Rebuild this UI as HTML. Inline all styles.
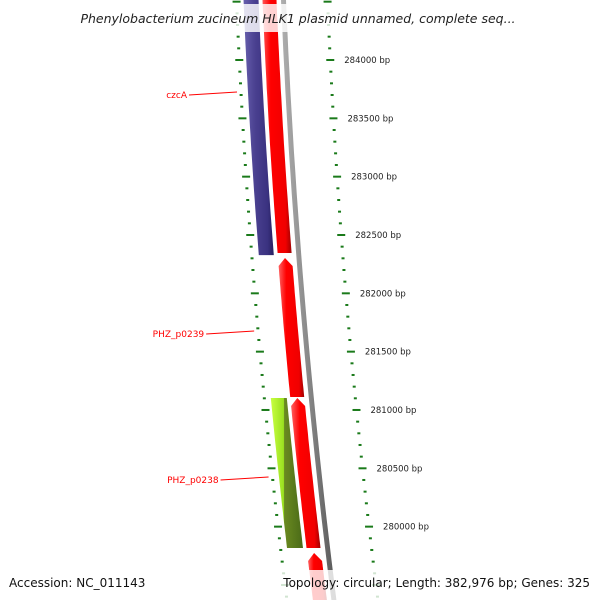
<!DOCTYPE html>
<html><head><meta charset="utf-8"><style>
body{margin:0;background:#fff;overflow:hidden}
svg{display:block;overflow:hidden;font-family:"DejaVu Sans","Liberation Sans",sans-serif}
</style></head><body>
<svg id="map" width="600" height="600" viewBox="0 0 600 600">
<defs>
<linearGradient id="gRed" x1="0" x2="1" y1="0" y2="0"><stop offset="0" stop-color="#ff6060"/><stop offset="0.3" stop-color="#ff0000"/><stop offset="0.8" stop-color="#f00000"/><stop offset="1" stop-color="#a00000"/></linearGradient>
<linearGradient id="gBlue" x1="0" x2="1" y1="0" y2="0"><stop offset="0" stop-color="#6a62b0"/><stop offset="0.4" stop-color="#4a4090"/><stop offset="0.8" stop-color="#3a3280"/><stop offset="1" stop-color="#282060"/></linearGradient>
<linearGradient id="gGreen" x1="0" x2="1" y1="0" y2="0"><stop offset="0" stop-color="#c8ff40"/><stop offset="0.4" stop-color="#9ae020"/><stop offset="0.42" stop-color="#6a8a20"/><stop offset="1" stop-color="#4a6a18"/></linearGradient>
<linearGradient id="gGrey" x1="0" x2="1" y1="0" y2="0"><stop offset="0" stop-color="#b0b0b0"/><stop offset="0.5" stop-color="#888"/><stop offset="1" stop-color="#555"/></linearGradient>
</defs>
<g id="backbone"></g><g id="genes"></g><g id="ticks"></g><g id="labels"></g>
<rect x="58" y="4" width="484" height="28" fill="#fff" opacity="0.82"/>
<text x="298" y="23" text-anchor="middle" font-size="12.5" font-style="italic" fill="#222">Phenylobacterium zucineum HLK1 plasmid unnamed, complete seq...</text>
<rect x="0" y="570" width="600" height="30" fill="#fff" opacity="0.8"/>
<text x="9" y="587" font-size="12" fill="#111">Accession: NC_011143</text>
<text x="590" y="587" font-size="12" fill="#111" text-anchor="end">Topology: circular; Length: 382,976 bp; Genes: 325</text>
</svg>
<script>
const geneStarts=[284700,284700,282303,281103,281103,279774];
const geneEnds=[282328,282346,281111,279817,279817,278900];
const geneTracks=['outer','inner','inner','inner','outer','inner'];
const geneColors=['gBlue','gRed','gRed','gRed','gGreen','gRed'];
const geneArrow=[false,false,true,true,false,true];
const tickStart=278900, tickEnd=284700, tickStep=100;
const majorLabels=[280000,280500,281000,281500,282000,282500,283000,283500,284000];
const geneLabels=['czcA','PHZ_p0239','PHZ_p0238'];
const geneLabelBp=[283717,281668,280417];

const NS='http://www.w3.org/2000/svg';
function bpY(bp){return 60+(284000-bp)*0.11666;}
function cx(base,y){return base+0.042*y+7.0e-5*y*y;}
const trackBase={outer:251,inner:269.5,grey:283.5,lt:236.5,rt:327.5};
const trackW={outer:15,inner:14};
function mk(tag,attrs,parent){const e=document.createElementNS(NS,tag);for(const k in attrs)e.setAttribute(k,attrs[k]);parent.appendChild(e);return e;}
function band(base,w,y0,y1,arrow){
  const L=[],R=[];const n=30;
  let ys=y0+(arrow?8:0);
  for(let i=0;i<=n;i++){const y=ys+(y1-ys)*i/n;const c=cx(base,y);L.push([c-w/2,y]);R.push([c+w/2,y]);}
  let pts=[];
  if(arrow){pts.push([cx(base,y0),y0]);}
  pts=pts.concat(R,L.reverse());
  return pts.map(p=>p[0].toFixed(1)+','+p[1].toFixed(1)).join(' ');
}
const bb=document.getElementById('backbone');
const gp=mk('polygon',{points:band(trackBase.grey,5,-10,600,false),fill:'url(#gGrey)'},bb);


const gg=document.getElementById('genes');
for(let i=0;i<geneStarts.length;i++){
  const y0=bpY(geneStarts[i]),y1=Math.min(600,bpY(geneEnds[i]));
  const t=geneTracks[i];
  const p=mk('polygon',{points:band(trackBase[t],trackW[t]+(geneColors[i]==='gGreen'?1:0),y0,y1,geneArrow[i]),fill:'url(#'+geneColors[i]+')'},gg);
  
  
}
const tg=document.getElementById('ticks');
for(let bp=tickStart;bp<=tickEnd;bp+=tickStep){
  const y=bpY(bp);if(y>600)continue;const major=(bp%500===0);const len=major?8:3;
  [trackBase.lt,trackBase.rt].forEach((b,j)=>{
    const c=cx(b,y);
    const l=mk('line',{x1:c-len/2,y1:y,x2:c+len/2,y2:y,stroke:'#1a7a1a','stroke-width':2},tg);
    
    
  });
}
const lg=document.getElementById('labels');
majorLabels.forEach(bp=>{
  const y=bpY(bp);
  const t=mk('text',{x:cx(trackBase.rt,y)+14,y:y+3,'font-size':8.5,fill:'#222'},lg);
  t.textContent=bp+' bp';
  
  
});
geneLabels.forEach((s,i)=>{
  const y=bpY(geneLabelBp[i]);const xe=cx(trackBase.lt,y)-4;
  const ln=mk('line',{x1:xe-48,y1:y+2,x2:xe,y2:y-1,stroke:'#ff0000','stroke-width':1},lg);
  
  
  const t=mk('text',{x:xe-50,y:y+5,'font-size':9,fill:'#ff0000','text-anchor':'end'},lg);
  t.textContent=s;
  
  
});
</script>
</body></html>
